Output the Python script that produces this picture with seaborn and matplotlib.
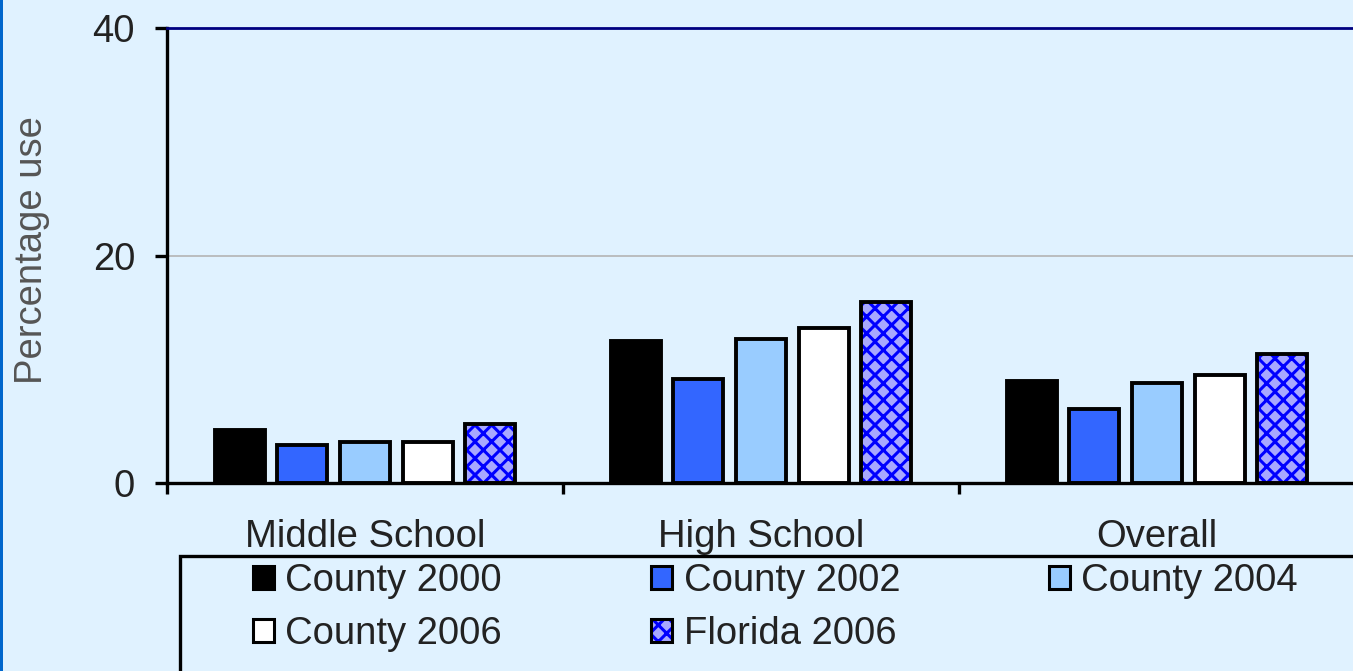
import pandas as pd
import matplotlib.pyplot as plt
import seaborn as sns
from matplotlib.patches import Patch, Rectangle

levels = ["Middle School", "High School", "Overall"]
groups = ["County 2000", "County 2002", "County 2004", "County 2006", "Florida 2006"]
county_2000 = [4.7, 12.5, 9.0]
county_2002 = [3.3, 9.1, 6.5]
county_2004 = [3.6, 12.7, 8.8]
county_2006 = [3.6, 13.6, 9.5]
florida_2006 = [5.2, 15.9, 11.3]
yticks = [0, 20, 40]

colors = ["#000000", "#3366FF", "#99CCFF", "#FFFFFF", "#A8A8FF"]
bg = "#E0F2FF"
blue = (0.0, 0.0, 1.0, 1.0)

# long table for seaborn
values = [county_2000, county_2002, county_2004, county_2006, florida_2006]
rows = []
for g, vals in zip(groups, values):
    for lev, v in zip(levels, vals):
        rows.append({"level": lev, "group": g, "pct": v})
df = pd.DataFrame(rows)

plt.rcParams["font.family"] = ["Liberation Sans", "DejaVu Sans"]
plt.rcParams["hatch.linewidth"] = 2.2

fig = plt.figure(figsize=(13.53, 6.71), dpi=100, facecolor=bg)
ax = fig.add_axes([167 / 1353, 188 / 671, 1188 / 1353, 455 / 671])
ax.set_facecolor(bg)

sns.barplot(data=df, x="level", y="pct", hue="group", order=levels, hue_order=groups,
            palette=colors, width=0.79, gap=0.2, edgecolor="black", linewidth=2.8,
            saturation=1, legend=False, ax=ax)

# Florida bars get the blue checker-ish hatch
fl_bars = ax.patches[4 * len(levels):5 * len(levels)]
for p in fl_bars:
    p.set_hatch("xx")
    p._hatch_color = blue
    p.stale = True

ax.set_xlim(-0.5, 2.5)
ax.set_ylim(0, 40)
ax.axhline(20, color="#B4B4B4", lw=1.2, zorder=0)

ax.spines["right"].set_visible(False)
ax.spines["top"].set_color("#000080")
ax.spines["top"].set_linewidth(2)
ax.spines["left"].set_linewidth(2.4)
ax.spines["bottom"].set_linewidth(2.4)

ax.set_yticks(yticks)
ax.set_yticklabels([str(t) for t in yticks], fontsize=27.5, color="#222222")
ax.tick_params(axis="y", length=9, width=2.4, pad=14)

ax.set_xticks([-0.5, 0.5, 1.5])
ax.set_xticklabels([])
ax.set_xticks([0, 1, 2], minor=True)
ax.set_xticklabels(levels, minor=True, fontsize=27.5, color="#222222")
ax.tick_params(axis="x", which="major", length=8, width=2.4, direction="out")
ax.tick_params(axis="x", which="minor", length=0, pad=26)
ax.set_xlabel("")
ax.set_ylabel("")

fig.text(32 / 1353, 1 - 250 / 671, "Percentage use", rotation=90, ha="center",
         va="center", fontsize=27.5, color="#555555")

# legend box running off the bottom-right corner
fig.patches.append(Rectangle((180 / 1353, -0.05), 1.0, (671 - 556) / 671 + 0.05,
                             transform=fig.transFigure, facecolor=bg,
                             edgecolor="black", lw=2.4))

handles = {}
for g, c in zip(groups, colors):
    h = Patch(facecolor=c, edgecolor="black", lw=2.2)
    if g == "Florida 2006":
        h.set_hatch("xx")
        h._hatch_color = blue
    handles[g] = h

# legend fills column by column, so order entries to read across rows
leg_order = ["County 2000", "County 2006", "County 2002", "Florida 2006", "County 2004"]
fig.legend([handles[g] for g in leg_order], leg_order, ncol=3, loc="upper left",
           bbox_to_anchor=(253 / 1353, 1 - 563 / 671), frameon=False,
           fontsize=27.5, handlelength=0.55, handleheight=0.55, handletextpad=0.3,
           columnspacing=3.9, labelspacing=0.45, borderaxespad=0, borderpad=0,
           labelcolor="#222222")

# thin blue stripe on the left edge
fig.patches.append(Rectangle((0, 0), 3 / 1353, 1, transform=fig.transFigure,
                             facecolor="#0066CC", edgecolor="none"))

fig.savefig("out.png", dpi=100, facecolor=bg)
